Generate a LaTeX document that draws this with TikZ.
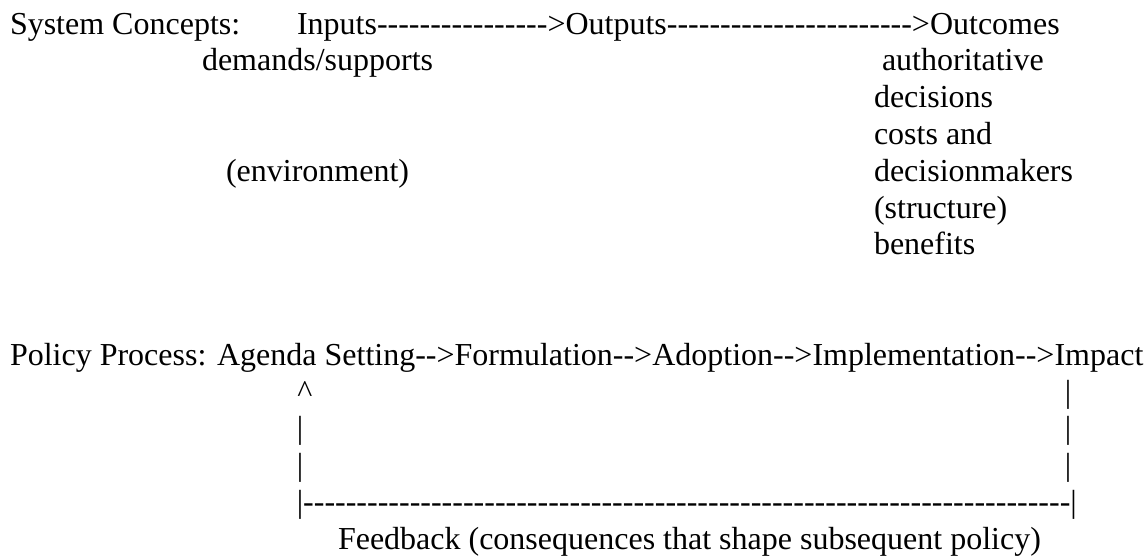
\documentclass[tikz,border=0pt]{standalone}
\usepackage{fontspec}
\setmainfont{Liberation Serif}[Ligatures={TeXOff,NoCommon}]
\newcommand{\dashrun}[1]{\foreach \i in {1,...,#1}{-}}
\begin{document}
\begin{tikzpicture}[x=1pt,y=-1pt,
  txt/.style={anchor=base west,inner sep=0pt,outer sep=0pt,
    font=\fontsize{32}{36.8}\selectfont},
  bar/.style={txt,anchor=base}]
\useasboundingbox (0,0) rectangle (1145,555);
% baselines: 34 + 36.8 k
% --- system concepts ---
\node[txt] (sys) at (10,34) {System Concepts:};
\node[txt] (chain) at (297,34) {Inputs\dashrun{16}>Outputs\dashrun{23}>Outcomes};
\node[txt] (inp) at (202,70.8) {demands/supports};
\node[txt] (env) at (226,181.2) {(environment)};
\node[txt] (out1) at (882,70.8) {authoritative};
\node[txt] (out2) at (874,107.6) {decisions};
\node[txt] (out3) at (874,144.4) {costs and};
\node[txt] (out4) at (874,181.2) {decisionmakers};
\node[txt] (out5) at (874,218) {(structure)};
\node[txt] (out6) at (874,254.8) {benefits};
% --- policy process ---
\node[txt] (pol) at (10,365.2) {Policy Process: Agenda Setting-->Formulation-->Adoption-->Implementation-->Impact};
\node[bar] (up) at (305,402) {\textasciicircum};
\node[bar] (l1) at (300,438.8) {|};
\node[bar] (l2) at (300,475.6) {|};
\node[bar] (r0) at (1068,402) {|};
\node[bar] (r1) at (1068,438.8) {|};
\node[bar] (r2) at (1068,475.6) {|};
\node[txt] (fb) at (296.8,512.4) {|\dashrun{72}|};
\node[txt] (fbl) at (338,549.2) {Feedback (consequences that shape subsequent policy)};
\end{tikzpicture}
\end{document}
